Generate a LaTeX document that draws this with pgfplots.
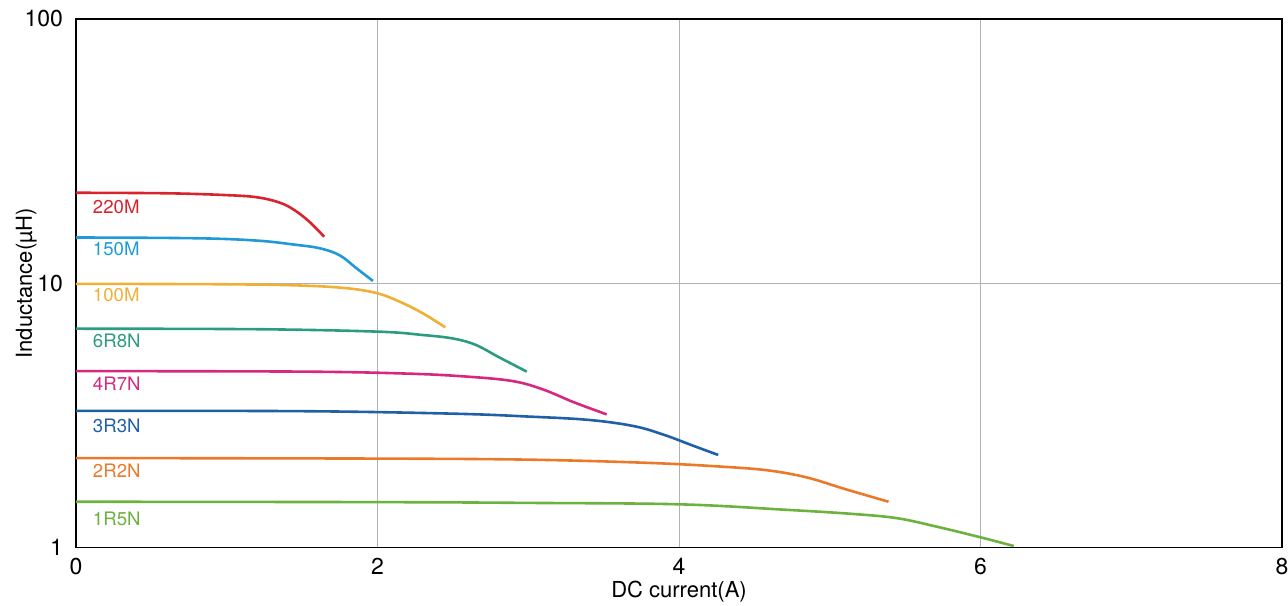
\documentclass[border=0pt]{standalone}
\usepackage{fontspec}
\setmainfont{TeX Gyre Heros}
\usepackage{pgfplots}
\pgfplotsset{compat=1.18}
\definecolor{c220}{RGB}{216,36,44}
\definecolor{c150}{RGB}{32,154,214}
\definecolor{c100}{RGB}{238,176,54}
\definecolor{c6r8}{RGB}{44,156,128}
\definecolor{c4r7}{RGB}{214,40,126}
\definecolor{c3r3}{RGB}{32,96,166}
\definecolor{c2r2}{RGB}{234,122,42}
\definecolor{c1r5}{RGB}{108,178,62}
\begin{document}
\begin{tikzpicture}
\begin{axis}[
  scale only axis,
  width=603pt, height=264.25pt,
  xmin=0, xmax=8,
  ymode=log, ymin=1, ymax=100,
  xtick={0,2,4,6,8},
  ytick={1,10,100},
  yticklabels={1,10,100},
  yminorticks=false,
  xminorticks=false,
  tick style={draw=none},
  grid=major,
  grid style={gray!60, line width=0.5pt},
  axis line style={line width=0.7pt},
  /pgf/number format/assume math mode=true,
  tick label style={font=\fontsize{11.5}{13}\selectfont},
  xticklabel style={yshift=-2pt},
  yticklabel style={xshift=-3pt},
  xlabel={DC current(A)},
  ylabel={Inductance(µH)},
  label style={font=\fontsize{11}{13}\selectfont},
  xlabel style={yshift=4pt},
  ylabel style={yshift=-13pt},
  every axis plot/.append style={line width=1.3pt, no marks, smooth, tension=0.6},
  clip=false,
]
\addplot[c220] coordinates {(0,22) (0.6,21.9) (1.0,21.55) (1.2,21.15) (1.35,20.2) (1.45,18.9) (1.55,17.05) (1.646,15.0)};
\addplot[c150] coordinates {(0,14.9) (0.8,14.8) (1.2,14.5) (1.45,14.0) (1.62,13.55) (1.75,12.75) (1.86,11.4) (1.97,10.2)};
\addplot[c100] coordinates {(0,9.95) (1.0,9.91) (1.5,9.8) (1.8,9.57) (2.0,9.16) (2.15,8.5) (2.3,7.7) (2.45,6.81)};
\addplot[c6r8] coordinates {(0,6.73) (1.2,6.7) (2.0,6.56) (2.3,6.37) (2.5,6.18) (2.65,5.85) (2.8,5.27) (2.99,4.63)};
\addplot[c4r7] coordinates {(0,4.65) (1.5,4.63) (2.2,4.55) (2.6,4.43) (2.9,4.26) (3.1,3.96) (3.3,3.55) (3.52,3.19)};
\addplot[c3r3] coordinates {(0,3.29) (1.5,3.28) (2.5,3.21) (3.0,3.13) (3.4,3.04) (3.7,2.88) (3.9,2.67) (4.1,2.42) (4.26,2.24)};
\addplot[c2r2] coordinates {(0,2.18) (2,2.17) (3.0,2.15) (3.8,2.09) (4.3,2.02) (4.6,1.955) (4.85,1.84) (5.1,1.665) (5.39,1.49)};
\addplot[c1r5] coordinates {(0,1.49) (2,1.485) (3,1.475) (4.0,1.457) (4.7,1.39) (5.15,1.34) (5.45,1.29) (5.72,1.195) (6.0,1.093) (6.22,1.013)};
\begin{scope}[every node/.style={anchor=west, font=\fontsize{9.3}{11}\selectfont, inner sep=0pt}]
\node[text=c220] at (axis cs:0.11,19.4) {220M};
\node[text=c150] at (axis cs:0.11,13.5) {150M};
\node[text=c100] at (axis cs:0.11,9.03) {100M};
\node[text=c6r8] at (axis cs:0.11,6.05) {6R8N};
\node[text=c4r7] at (axis cs:0.11,4.16) {4R7N};
\node[text=c3r3] at (axis cs:0.11,2.88) {3R3N};
\node[text=c2r2] at (axis cs:0.11,1.948) {2R2N};
\node[text=c1r5] at (axis cs:0.11,1.28) {1R5N};
\end{scope}
\end{axis}
\pgfresetboundingbox
\path ([xshift=-38pt,yshift=-29.25pt]current axis.south west) rectangle ([xshift=3pt,yshift=9.5pt]current axis.north east);
\end{tikzpicture}
\end{document}
